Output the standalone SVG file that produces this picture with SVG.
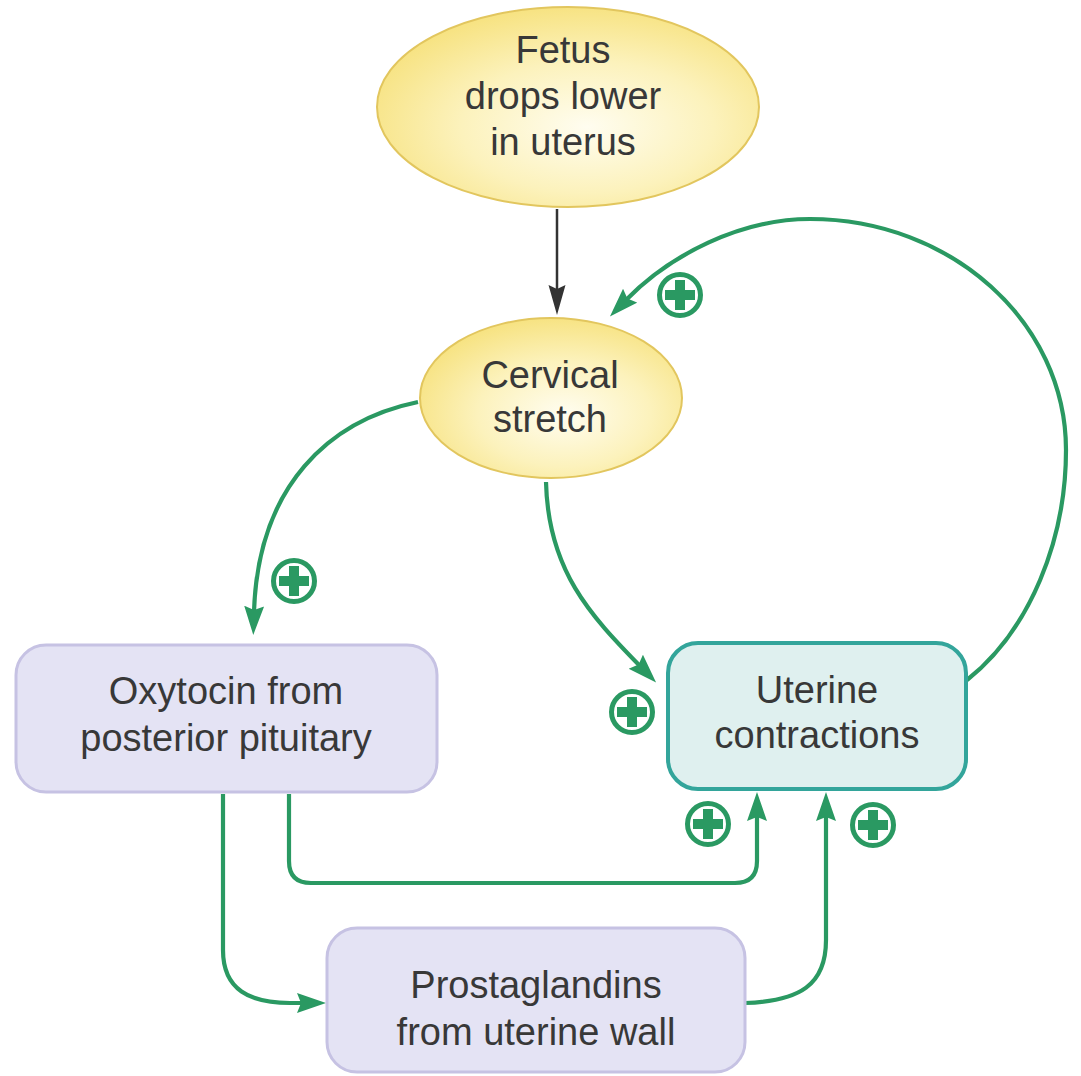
<svg xmlns="http://www.w3.org/2000/svg" width="1081" height="1076" viewBox="0 0 1081 1076">
  <style>
    .label { font-family: "Liberation Sans", Arial, Helvetica, sans-serif; font-size: 38px; fill: #383838; text-anchor: middle; }
    .ellipse { fill: url(#yellowFill); stroke: #e2c65e; stroke-width: 2; }
    .lavender { fill: #e4e3f4; stroke: #c6c2e3; stroke-width: 3; }
    .teal { fill: #dff0ef; stroke: #33a59b; stroke-width: 4; }
    .flow { fill: none; stroke: #2a9962; stroke-width: 4.2; }
    .flow-dark { fill: none; stroke: #333333; stroke-width: 2.5; }
  </style>
  <defs>
    <radialGradient id="yellowFill" cx="0.55" cy="0.6" r="0.6">
      <stop offset="0" stop-color="#fffdf0"/>
      <stop offset="0.55" stop-color="#fcf2bc"/>
      <stop offset="1" stop-color="#f7e383"/>
    </radialGradient>
    <marker id="headGreen" markerUnits="userSpaceOnUse" markerWidth="32" markerHeight="22" refX="6" refY="10" orient="auto">
      <path d="M0,0 L29,10 L0,20 L4,10 Z" fill="#2a9962"/>
    </marker>
    <marker id="headDark" markerUnits="userSpaceOnUse" markerWidth="32" markerHeight="18" refX="8" refY="8.5" orient="auto">
      <path d="M0,0 L30,8.5 L0,17 L4,8.5 Z" fill="#333333"/>
    </marker>
    <g id="plus">
      <circle r="20.5" fill="#ffffff" stroke="#2a9962" stroke-width="5"/>
      <path d="M-5,-15 h10 v10 h10 v10 h-10 v10 h-10 v-10 h-10 v-10 h10 Z" fill="#2a9962"/>
    </g>
  </defs>

  <rect width="1081" height="1076" fill="#ffffff"/>

  <!-- connectors -->
  <g id="connectors">
    <path class="flow-dark" d="M557,209 V293" marker-end="url(#headDark)"/>
    <path class="flow" d="M418,402 C330,420 258,485 254,612" marker-end="url(#headGreen)"/>
    <path class="flow" d="M546,482 C548,570 590,615 640,666" marker-end="url(#headGreen)"/>
    <path class="flow" d="M967,680 C1030,630 1066,540 1066,450 C1066,322 951,219 810,219 C740,219 670,255 626,300" marker-end="url(#headGreen)"/>
    <path class="flow" d="M289,794 V861 Q289,883 311,883 H735 Q757,883 757,861 V815" marker-end="url(#headGreen)"/>
    <path class="flow" d="M223,794 V950 C223,990 250,1003 290,1003 H303" marker-end="url(#headGreen)"/>
    <path class="flow" d="M745,1003 C800,1001 826,985 826,940 V815" marker-end="url(#headGreen)"/>
  </g>

  <!-- positive-effect badges -->
  <g id="badges">
    <use href="#plus" x="680" y="295"/>
    <use href="#plus" x="294" y="581"/>
    <use href="#plus" x="632" y="712"/>
    <use href="#plus" x="708" y="824"/>
    <use href="#plus" x="873" y="825"/>
  </g>

  <g id="fetus">
    <ellipse class="ellipse" cx="568" cy="107" rx="191" ry="100"/>
    <text class="label" x="563" y="63">Fetus</text>
    <text class="label" x="563" y="109">drops lower</text>
    <text class="label" x="563" y="155">in uterus</text>
  </g>

  <g id="cervical">
    <ellipse class="ellipse" cx="551" cy="398" rx="131" ry="80"/>
    <text class="label" x="550" y="388">Cervical</text>
    <text class="label" x="550" y="432">stretch</text>
  </g>

  <g id="oxytocin">
    <rect class="lavender" x="16" y="645" width="421" height="147" rx="30"/>
    <text class="label" x="226" y="704">Oxytocin from</text>
    <text class="label" x="226" y="751">posterior pituitary</text>
  </g>

  <g id="uterine">
    <rect class="teal" x="668" y="643" width="298" height="146" rx="30"/>
    <text class="label" x="817" y="703">Uterine</text>
    <text class="label" x="817" y="748">contractions</text>
  </g>

  <g id="prostaglandins">
    <rect class="lavender" x="327" y="928" width="418" height="144" rx="30"/>
    <text class="label" x="536" y="998">Prostaglandins</text>
    <text class="label" x="536" y="1045">from uterine wall</text>
  </g>
</svg>
